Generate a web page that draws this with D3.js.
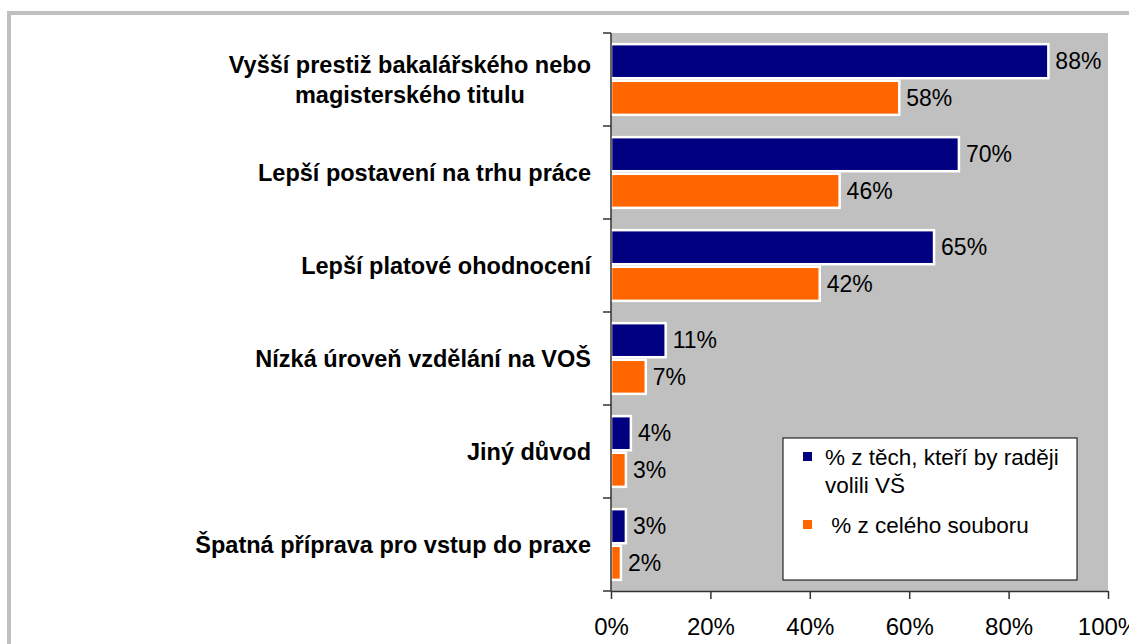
<!DOCTYPE html>
<html>
<head>
<meta charset="utf-8">
<script src="https://cdn.jsdelivr.net/npm/d3@7"></script>
<style>
  body { margin: 0; background: #fff; }
  svg { display: block; }
</style>
</head>
<body>
<div id="viz"></div>
<script>
const width = 1129;
const height = 644;
const plot = { left: 611, right: 1108, top: 33, bottom: 591 };

// data
const categories = [
  'Vyšší prestiž bakalářského nebo\nmagisterského titulu',
  'Lepší postavení na trhu práce',
  'Lepší platové ohodnocení',
  'Nízká úroveň vzdělání na VOŠ',
  'Jiný důvod',
  'Špatná příprava pro vstup do praxe'
];
const seriesKeys = ['vs', 'all'];
const seriesLabels = [['% z těch, kteří by raději', 'volili VŠ'], [' % z celého souboru']];
const vsValues = [88, 70, 65, 11, 4, 3];
const allValues = [58, 46, 42, 7, 3, 2];
const xTicks = [0, 20, 40, 60, 80, 100];

const navy = '#000080';
const orange = '#ff6600';
const font = '"Liberation Sans", Arial, sans-serif';

const rows = categories.map((c, i) => ({ cat: c, vs: vsValues[i], all: allValues[i] }));

const container = d3.create('svg')
  .attr('width', width)
  .attr('height', height)
  .style('font-family', font);

container.append('rect')
  .attr('width', width).attr('height', height)
  .attr('fill', '#fff');

// outer frame
container.append('rect')
  .attr('x', 9).attr('y', 13)
  .attr('width', width + 20).attr('height', height + 20)
  .attr('fill', 'none')
  .attr('stroke', '#c0c0c0')
  .attr('stroke-width', 4);

const x = d3.scaleLinear()
  .domain([0, 100])
  .range([plot.left, plot.right]);

const y = d3.scaleBand()
  .domain(categories)
  .range([plot.top, plot.bottom])
  .paddingInner(0.24)
  .paddingOuter(0.12);

const ySub = d3.scaleBand()
  .domain(seriesKeys)
  .range([0, y.bandwidth()])
  .paddingInner(0.07);

const color = d3.scaleOrdinal().domain(seriesKeys).range([navy, orange]);

// plot background
container.append('rect')
  .attr('x', plot.left).attr('y', plot.top)
  .attr('width', plot.right - plot.left)
  .attr('height', plot.bottom - plot.top)
  .attr('fill', '#c0c0c0');

const groups = container.selectAll('.cat')
  .data(rows)
  .enter()
  .append('g')
  .attr('class', 'cat')
  .attr('transform', d => `translate(0, ${y(d.cat)})`);

groups.selectAll('rect')
  .data(d => seriesKeys.map(k => ({ key: k, value: d[k] })))
  .enter()
  .append('rect')
  .attr('x', x(0))
  .attr('y', d => ySub(d.key))
  .attr('width', d => x(d.value) - x(0))
  .attr('height', ySub.bandwidth())
  .attr('fill', d => color(d.key))
  .attr('stroke', '#fff')
  .attr('stroke-width', 2.5);

groups.selectAll('.val')
  .data(d => seriesKeys.map(k => ({ key: k, value: d[k] })))
  .enter()
  .append('text')
  .attr('class', 'val')
  .attr('x', d => x(d.value) + 7)
  .attr('y', d => ySub(d.key) + ySub.bandwidth() / 2)
  .attr('dy', '0.36em')
  .style('font-size', '23px')
  .attr('fill', '#000')
  .text(d => d.value + '%');

// x axis
const xaxis = container.append('g')
  .attr('transform', `translate(0, ${plot.bottom})`)
  .call(d3.axisBottom(x).tickValues(xTicks).tickFormat(d => d + '%').tickSize(8).tickPadding(19).tickSizeOuter(0));
xaxis.select('.domain').attr('stroke', '#333').attr('stroke-width', 1.5);
xaxis.selectAll('.tick line').attr('stroke', '#333').attr('stroke-width', 1.5);
xaxis.selectAll('text')
  .style('font-size', '24px')
  .style('font-family', font)
  .attr('fill', '#000');

// y axis: line with ticks at band boundaries
const step = y.step();
const boundaries = d3.range(categories.length + 1).map(i => plot.top + i * step);
container.append('line')
  .attr('x1', plot.left).attr('x2', plot.left)
  .attr('y1', plot.top).attr('y2', plot.bottom)
  .attr('stroke', '#333').attr('stroke-width', 1.5);
container.selectAll('.ytick')
  .data(boundaries)
  .enter()
  .append('line')
  .attr('class', 'ytick')
  .attr('x1', plot.left - 8).attr('x2', plot.left)
  .attr('y1', d => d).attr('y2', d => d)
  .attr('stroke', '#333').attr('stroke-width', 1.5);

// category labels
const lineHeight = 30.7;
const labelRight = 591;
categories.forEach(cat => {
  const lines = cat.split('\n');
  const cy = y(cat) + y.bandwidth() / 2;
  const t = container.append('text')
    .style('font-size', '23.5px')
    .style('font-weight', 700)
    .attr('fill', '#000')
    .attr('text-anchor', 'end');
  lines.forEach((ln, i) => {
    t.append('tspan')
      .attr('x', labelRight)
      .attr('y', cy + (i - (lines.length - 1) / 2) * lineHeight)
      .attr('dy', '0.36em')
      .text(ln);
  });
  if (lines.length > 1) {
    // block is right aligned, lines centred inside it
    d3.select('#viz').node().appendChild(container.node());
    const maxW = d3.max(t.selectAll('tspan').nodes(), n => n.getComputedTextLength());
    t.attr('text-anchor', 'middle');
    t.selectAll('tspan').attr('x', labelRight - maxW / 2);
  }
});

// legend
const legend = container.append('g')
  .attr('transform', 'translate(783, 438)');
legend.append('rect')
  .attr('width', 294).attr('height', 142)
  .attr('fill', '#fff')
  .attr('stroke', '#000')
  .attr('stroke-width', 1);

const legendRowY = [27, 95];
const legendItem = legend.selectAll('.legend')
  .data(seriesKeys)
  .enter()
  .append('g')
  .attr('class', 'legend')
  .attr('transform', (d, i) => `translate(0, ${legendRowY[i]})`);

legendItem.append('rect')
  .attr('x', 20).attr('y', -13)
  .attr('width', 9).attr('height', 9)
  .attr('fill', color);

legendItem.append('text')
  .style('font-size', '22.5px')
  .style('white-space', 'pre')
  .attr('fill', '#000')
  .each(function(d, i) {
    const t = d3.select(this);
    seriesLabels[i].forEach((ln, j) => {
      t.append('tspan')
        .attr('x', 42)
        .attr('y', j * 28)
        .attr('xml:space', 'preserve')
        .text(ln);
    });
  });

d3.select('#viz').node().appendChild(container.node());
</script>
</body>
</html>
